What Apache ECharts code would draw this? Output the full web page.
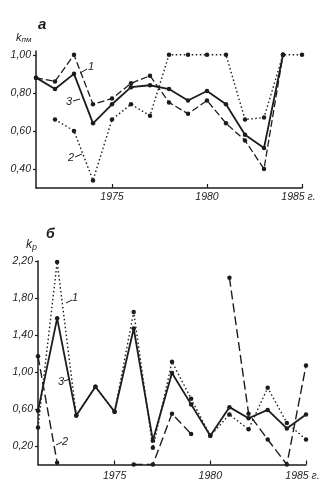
<!DOCTYPE html>
<html><head><meta charset="utf-8">
<script src="https://cdn.jsdelivr.net/npm/echarts@6/dist/echarts.min.js"></script>
<style>html,body{margin:0;padding:0;background:#fff}#c{width:332px;height:492px}</style>
</head><body><div id="c"></div><script>
// ---- data ----
const years = [1971,1972,1973,1974,1975,1976,1977,1978,1979,1980,1981,1982,1983,1984,1985];
// panel "а": k_пм
const aSeries1 = [0.88,0.86,1.00,0.74,0.77,0.85,0.89,0.75,0.69,0.76,0.64,0.55,0.40,1.00,null];
const aSeries2 = [null,0.66,0.60,0.34,0.66,0.74,0.68,1.00,1.00,1.00,1.00,0.66,0.67,1.00,1.00];
const aSeries3 = [0.88,0.82,0.90,0.64,0.74,0.83,0.84,0.82,0.76,0.81,0.74,0.58,0.51,1.00,null];
// panel "б": k_р
const bSeries1 = [0.40,2.19,0.53,0.84,0.57,1.65,0.18,1.11,0.71,0.31,0.54,0.38,0.83,0.45,0.27];
const bSeries2 = [1.17,0.02,null,null,null,0.00,0.00,0.55,0.33,null,2.02,0.55,0.27,0.00,1.07];
const bSeries3 = [0.58,1.58,0.53,0.84,0.57,1.47,0.26,0.99,0.65,0.31,0.62,0.50,0.59,0.39,0.54];
const aYTicks = [0.40,0.60,0.80,1.00];
const bYTicks = [0.20,0.60,1.00,1.40,1.80,2.20];
const xTicks = [1975,1980,1985];

const INK = '#1c1c1c';
const FONT = 'Liberation Sans';
const pairs = v => years.map((y,i)=>[y, v[i]==null ? '-' : v[i]]);
const yFmt = v => v.toFixed(2).replace('.', ',');
const xFmt = v => v===1985 ? '{e|1985 г.}' : String(v);

function xAxis(idx, margin){
  return {
    type:'value', gridIndex:idx, min:1971, max:1985,
    axisLine:{lineStyle:{color:INK,width:1.5}},
    axisTick:{inside:true,length:4,lineStyle:{color:INK,width:1.2},customValues:xTicks},
    axisLabel:{customValues:xTicks,formatter:xFmt,margin:margin,color:INK,fontFamily:FONT,fontStyle:'italic',fontSize:10.5,
      rich:{e:{fontFamily:FONT,fontStyle:'italic',fontSize:10.5,color:INK,padding:[0,7,0,0]}}},
    splitLine:{show:false}
  };
}
function yAxis(idx, min, max, ticks){
  return {
    type:'value', gridIndex:idx, min:min, max:max,
    axisLine:{show:true,lineStyle:{color:INK,width:1.5}},
    axisTick:{show:true,length:3,lineStyle:{color:INK,width:1.2},customValues:ticks},
    axisLabel:{customValues:ticks,formatter:yFmt,margin:5,color:INK,fontFamily:FONT,fontStyle:'italic',fontSize:10.5},
    splitLine:{show:false}
  };
}
function line(idx, data, type, width){
  return {
    type:'line', xAxisIndex:idx, yAxisIndex:idx, data:pairs(data),
    symbol:'circle', symbolSize:4.5, showSymbol:true, connectNulls:false,
    lineStyle:{color:INK,width:width,type:type}, itemStyle:{color:INK},
    animation:false, z:type==='solid'?3:2
  };
}
function txt(x,y,t,size,extra){
  return Object.assign({type:'text',x:x,y:y,style:{text:t,fill:INK,font:'italic '+size+'px '+FONT,textVerticalAlign:'middle'}}, extra||{});
}
function ln(x1,y1,x2,y2){
  return {type:'line',shape:{x1:x1,y1:y1,x2:x2,y2:y2},style:{stroke:INK,lineWidth:1}};
}

const chart = echarts.init(document.getElementById('c'), null, {renderer:'canvas'});
chart.setOption({
  backgroundColor:'#ffffff',
  animation:false,
  grid:[
    {left:36, top:51, width:266, height:137},
    {left:38, top:261, width:268, height:203.5}
  ],
  xAxis:[xAxis(0,4), xAxis(1,6)],
  yAxis:[yAxis(0,0.30,1.02,aYTicks), yAxis(1,0,2.20,bYTicks)],
  series:[
    line(0,aSeries1,[7,3],1.3),
    line(0,aSeries2,[1.5,2.5],1.4),
    line(0,aSeries3,'solid',1.8),
    line(1,bSeries1,[1.5,2.5],1.4),
    line(1,bSeries2,[9,4],1.4),
    line(1,bSeries3,'solid',1.8)
  ],
  graphic:[
    txt(38,25,'а',15,{style:{text:'а',fill:INK,font:'italic bold 15px '+FONT,textVerticalAlign:'middle'}}),
    {type:'text',x:16,y:38,style:{text:'{k|k}{s|пм}',fill:INK,textVerticalAlign:'middle',
      rich:{k:{font:'italic 11px '+FONT,fill:INK},s:{font:'italic 8px '+FONT,fill:INK,padding:[4,0,0,0]}}}},
    txt(88,67,'1',11), ln(80,73,87,69),
    txt(66,102,'3',11), ln(73,101,80,99),
    txt(68,158,'2',11), ln(75,157,82,154),
    {type:'text',x:46,y:234,style:{text:'б',fill:INK,font:'italic bold 14px '+FONT,textVerticalAlign:'middle'}},
    {type:'text',x:26,y:245,style:{text:'{k|k}{s|р}',fill:INK,textVerticalAlign:'middle',
      rich:{k:{font:'italic 12px '+FONT,fill:INK},s:{font:'italic 9px '+FONT,fill:INK,padding:[4,0,0,0]}}}},
    txt(72,298,'1',11), ln(66,303,72,300),
    txt(58,382,'3',11), ln(64,381,70,379),
    txt(62,442,'2',11), ln(56,445,62,442)
  ]
});
</script></body></html>
